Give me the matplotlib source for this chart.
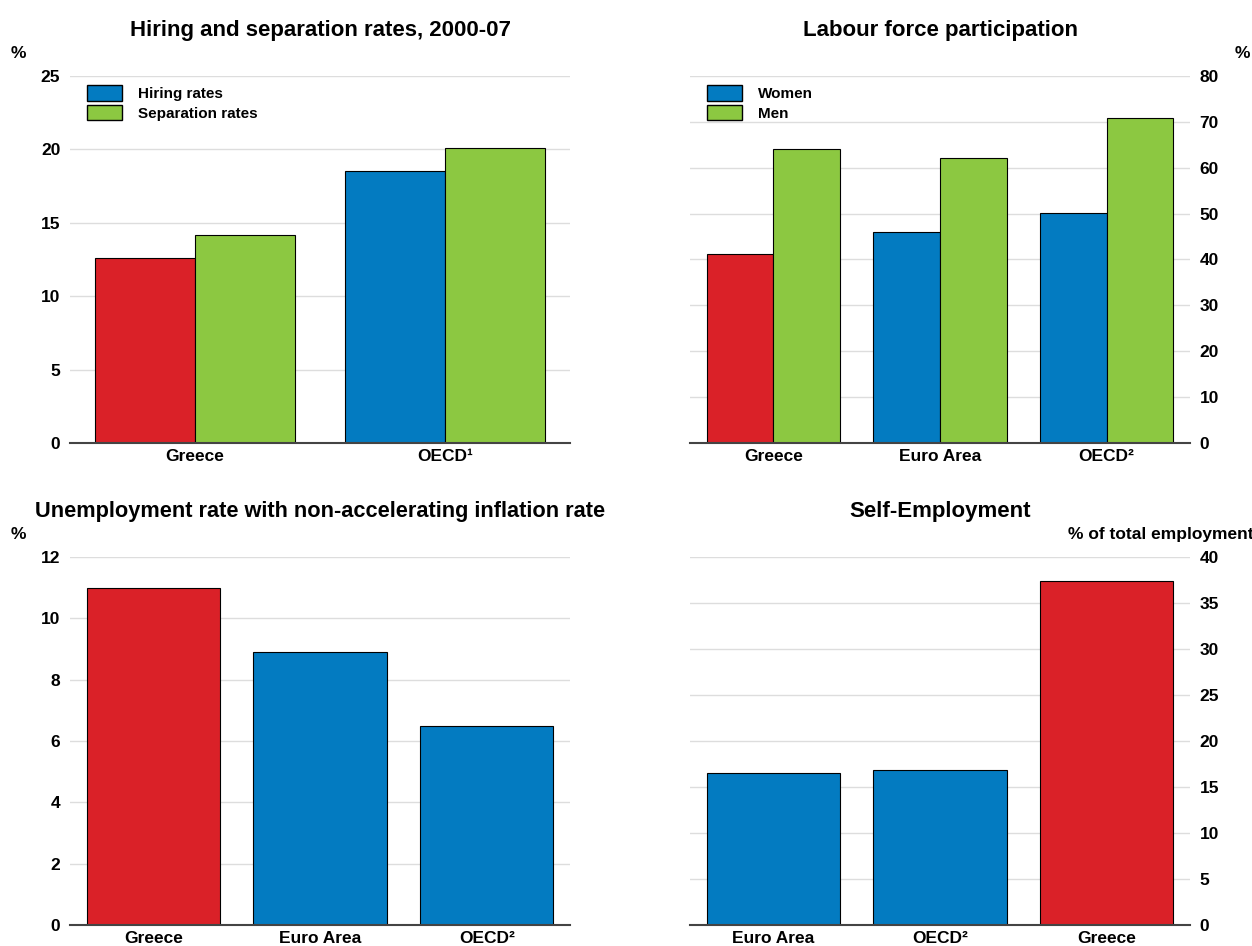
import numpy as np
import matplotlib
matplotlib.use("Agg")
import matplotlib.pyplot as plt
from matplotlib.patches import Patch

plt.rcParams['font.family'] = ['Liberation Sans', 'DejaVu Sans']
plt.rcParams['font.weight'] = 'bold'

RED = '#da2128'
BLUE = '#037bc1'
GREEN = '#8cc841'
GRID = '#dddddd'

# hiring and separation rates
hs_groups = ['Greece', 'OECD¹']
hiring = [12.6, 18.5]
separation = [14.2, 20.1]

# labour force participation
lf_groups = ['Greece', 'Euro Area', 'OECD²']
women = [41.2, 46.0, 50.1]
men = [64.1, 62.1, 70.8]

# NAIRU
nairu_groups = ['Greece', 'Euro Area', 'OECD²']
nairu = [11.0, 8.9, 6.5]

# self-employment
se_groups = ['Euro Area', 'OECD²', 'Greece']
selfemp = [16.5, 16.9, 37.4]

TICK_FS = 12.5
TITLE_FS = 16


def style(ax, ymax, step, right=False):
    ax.set_ylim(0, ymax)
    ax.set_yticks(np.arange(0, ymax + 0.01, step))
    ax.grid(axis='y', color=GRID, lw=1)
    ax.set_axisbelow(True)
    for s in ['top', 'left', 'right']:
        ax.spines[s].set_visible(False)
    ax.spines['bottom'].set_color('#444444')
    ax.spines['bottom'].set_linewidth(1.5)
    ax.tick_params(axis='both', length=0, labelsize=TICK_FS, pad=7)
    ax.tick_params(axis='x', pad=4)
    if right:
        ax.yaxis.tick_right()


def legend(ax, labels):
    ax.legend(handles=[Patch(facecolor=BLUE, edgecolor='black', label=labels[0]),
                       Patch(facecolor=GREEN, edgecolor='black', label=labels[1])],
              loc='upper left', bbox_to_anchor=(0.006, 1.012), frameon=False,
              prop={'size': 11, 'weight': 'bold'},
              handlelength=2.3, handleheight=1.2, labelspacing=0.22, handletextpad=1.05)


fig = plt.figure(figsize=(12.52, 9.46), dpi=100)

# top left
ax1 = fig.add_axes([0.0559, 0.5317, 0.3994, 0.388])
x = np.arange(len(hs_groups))
w = 0.4
ax1.bar(x - w / 2, hiring, w, color=[RED, BLUE], edgecolor='black', lw=0.8)
ax1.bar(x + w / 2, separation, w, color=GREEN, edgecolor='black', lw=0.8)
ax1.set_xlim(-0.5, 1.5)
ax1.set_xticks(x)
ax1.set_xticklabels(hs_groups)
style(ax1, 25, 5)
ax1.set_title('Hiring and separation rates, 2000-07', fontsize=TITLE_FS, fontweight='bold', pad=29)
ax1.text(-0.104, 1.06, '%', transform=ax1.transAxes, fontsize=TICK_FS, ha='center', va='center')
legend(ax1, ['Hiring rates', 'Separation rates'])

# top right
ax2 = fig.add_axes([0.5511, 0.5317, 0.3994, 0.388])
x = np.arange(len(lf_groups))
ax2.bar(x - w / 2, women, w, color=[RED, BLUE, BLUE], edgecolor='black', lw=0.8)
ax2.bar(x + w / 2, men, w, color=GREEN, edgecolor='black', lw=0.8)
ax2.set_xlim(-0.5, 2.5)
ax2.set_xticks(x)
ax2.set_xticklabels(lf_groups)
style(ax2, 80, 10, right=True)
ax2.set_title('Labour force participation', fontsize=TITLE_FS, fontweight='bold', pad=29)
ax2.text(1.104, 1.06, '%', transform=ax2.transAxes, fontsize=TICK_FS, ha='center', va='center')
legend(ax2, ['Women', 'Men'])

# bottom left
ax3 = fig.add_axes([0.0559, 0.0222, 0.3994, 0.389])
x = np.arange(len(nairu_groups))
ax3.bar(x, nairu, 0.8, color=[RED, BLUE, BLUE], edgecolor='black', lw=0.8)
ax3.set_xlim(-0.5, 2.5)
ax3.set_xticks(x)
ax3.set_xticklabels(nairu_groups)
style(ax3, 12, 2)
ax3.set_title('Unemployment rate with non-accelerating inflation rate', fontsize=15.7,
              fontweight='bold', pad=29)
ax3.text(-0.104, 1.06, '%', transform=ax3.transAxes, fontsize=TICK_FS, ha='center', va='center')

# bottom right
ax4 = fig.add_axes([0.5511, 0.0222, 0.3994, 0.389])
x = np.arange(len(se_groups))
ax4.bar(x, selfemp, 0.8, color=[BLUE, BLUE, RED], edgecolor='black', lw=0.8)
ax4.set_xlim(-0.5, 2.5)
ax4.set_xticks(x)
ax4.set_xticklabels(se_groups)
style(ax4, 40, 5, right=True)
ax4.set_title('Self-Employment', fontsize=TITLE_FS, fontweight='bold', pad=29)
ax4.text(0.756, 1.06, '% of total employment', transform=ax4.transAxes, fontsize=TICK_FS,
         ha='left', va='center')

fig.savefig('out.png', dpi=100)
